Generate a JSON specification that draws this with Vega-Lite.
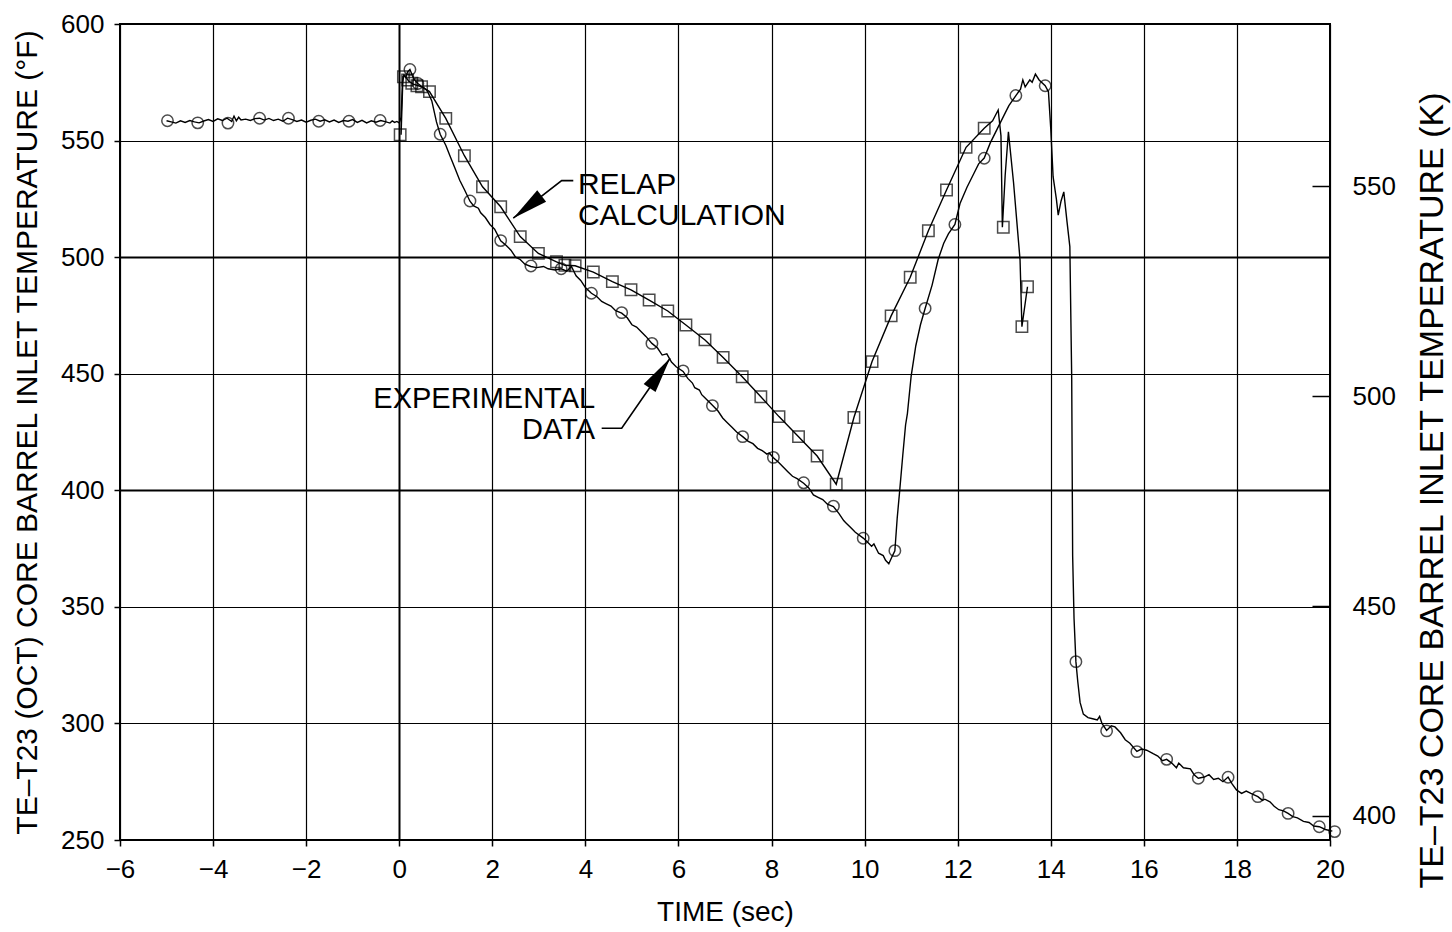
{
  "$schema": "https://vega.github.io/schema/vega-lite/v6.json",
  "width": 1210,
  "height": 816,
  "autosize": "none",
  "padding": {"left": 120, "top": 24, "right": 122, "bottom": 92},
  "background": "white",
  "config": {
    "view": {"stroke": "black", "strokeWidth": 2},
    "font": "Liberation Sans",
    "axis": {
      "labelFont": "Liberation Sans",
      "titleFont": "Liberation Sans",
      "labelColor": "black",
      "titleColor": "black",
      "titleFontWeight": "normal",
      "domainColor": "black",
      "tickColor": "black",
      "gridColor": "black",
      "gridOpacity": 1
    }
  },
  "datasets": {
    "exp": [
      {"t": -5.0, "T": 558.5}, {"t": -4.9, "T": 558.0}, {"t": -4.8, "T": 557.5}, {"t": -4.7, "T": 558.5}, {"t": -4.6, "T": 557.8},
      {"t": -4.5, "T": 558.6}, {"t": -4.4, "T": 558.0}, {"t": -4.3, "T": 557.6}, {"t": -4.2, "T": 558.4}, {"t": -4.1, "T": 559.0},
      {"t": -4.0, "T": 558.2}, {"t": -3.9, "T": 559.3}, {"t": -3.8, "T": 558.6}, {"t": -3.7, "T": 559.6}, {"t": -3.6, "T": 558.2},
      {"t": -3.55, "T": 560.5}, {"t": -3.5, "T": 558.5}, {"t": -3.45, "T": 560.0}, {"t": -3.4, "T": 558.8}, {"t": -3.3, "T": 559.2},
      {"t": -3.2, "T": 558.6}, {"t": -3.1, "T": 559.4}, {"t": -3.0, "T": 559.6}, {"t": -2.9, "T": 558.8}, {"t": -2.8, "T": 559.5},
      {"t": -2.7, "T": 558.6}, {"t": -2.6, "T": 559.2}, {"t": -2.5, "T": 558.3}, {"t": -2.4, "T": 559.6}, {"t": -2.3, "T": 559.0},
      {"t": -2.2, "T": 558.2}, {"t": -2.1, "T": 558.8}, {"t": -2.0, "T": 557.9}, {"t": -1.9, "T": 558.7}, {"t": -1.8, "T": 559.2},
      {"t": -1.7, "T": 558.3}, {"t": -1.6, "T": 558.9}, {"t": -1.5, "T": 558.0}, {"t": -1.4, "T": 558.8}, {"t": -1.3, "T": 557.8},
      {"t": -1.2, "T": 558.6}, {"t": -1.1, "T": 558.3}, {"t": -1.0, "T": 559.0}, {"t": -0.9, "T": 557.8}, {"t": -0.8, "T": 558.7},
      {"t": -0.7, "T": 557.6}, {"t": -0.6, "T": 558.5}, {"t": -0.5, "T": 557.9}, {"t": -0.4, "T": 558.6}, {"t": -0.3, "T": 558.1},
      {"t": -0.2, "T": 557.5}, {"t": -0.15, "T": 558.4}, {"t": -0.1, "T": 557.8}, {"t": -0.05, "T": 558.2}, {"t": 0.0, "T": 557.6},
      {"t": 0.04, "T": 560.0}, {"t": 0.07, "T": 575.0}, {"t": 0.1, "T": 578.0}, {"t": 0.14, "T": 577.0}, {"t": 0.18, "T": 579.5},
      {"t": 0.23, "T": 580.5}, {"t": 0.28, "T": 578.0}, {"t": 0.33, "T": 576.0}, {"t": 0.4, "T": 574.5}, {"t": 0.5, "T": 573.0},
      {"t": 0.6, "T": 571.5}, {"t": 0.7, "T": 567.0}, {"t": 0.8, "T": 558.0}, {"t": 0.88, "T": 552.7}, {"t": 1.0, "T": 548.0},
      {"t": 1.1, "T": 543.0}, {"t": 1.2, "T": 538.0}, {"t": 1.3, "T": 533.0}, {"t": 1.4, "T": 529.0}, {"t": 1.52, "T": 524.0},
      {"t": 1.6, "T": 522.0}, {"t": 1.7, "T": 521.0}, {"t": 1.75, "T": 519.0}, {"t": 1.85, "T": 517.0}, {"t": 1.95, "T": 514.0},
      {"t": 2.05, "T": 512.0}, {"t": 2.18, "T": 507.0}, {"t": 2.3, "T": 505.0}, {"t": 2.4, "T": 503.0}, {"t": 2.5, "T": 500.0},
      {"t": 2.6, "T": 499.0}, {"t": 2.7, "T": 497.0}, {"t": 2.83, "T": 496.0}, {"t": 2.95, "T": 495.5}, {"t": 3.1, "T": 496.0},
      {"t": 3.2, "T": 495.0}, {"t": 3.35, "T": 494.5}, {"t": 3.48, "T": 495.0}, {"t": 3.6, "T": 494.0}, {"t": 3.7, "T": 496.0},
      {"t": 3.8, "T": 492.0}, {"t": 3.9, "T": 490.0}, {"t": 4.0, "T": 487.0}, {"t": 4.13, "T": 484.5}, {"t": 4.25, "T": 483.0},
      {"t": 4.35, "T": 481.0}, {"t": 4.45, "T": 480.0}, {"t": 4.55, "T": 479.0}, {"t": 4.65, "T": 477.0}, {"t": 4.78, "T": 476.0},
      {"t": 4.9, "T": 474.0}, {"t": 5.0, "T": 471.0}, {"t": 5.1, "T": 470.0}, {"t": 5.2, "T": 468.0}, {"t": 5.3, "T": 466.0},
      {"t": 5.43, "T": 463.0}, {"t": 5.55, "T": 461.0}, {"t": 5.65, "T": 458.0}, {"t": 5.75, "T": 458.5}, {"t": 5.85, "T": 455.0},
      {"t": 5.95, "T": 453.0}, {"t": 6.1, "T": 451.0}, {"t": 6.2, "T": 448.0}, {"t": 6.3, "T": 446.0}, {"t": 6.35, "T": 444.0},
      {"t": 6.45, "T": 443.0}, {"t": 6.5, "T": 441.0}, {"t": 6.6, "T": 439.0}, {"t": 6.73, "T": 436.5}, {"t": 6.85, "T": 434.0},
      {"t": 6.95, "T": 431.0}, {"t": 7.05, "T": 429.0}, {"t": 7.15, "T": 427.0}, {"t": 7.25, "T": 425.0}, {"t": 7.38, "T": 423.0},
      {"t": 7.5, "T": 421.0}, {"t": 7.6, "T": 420.0}, {"t": 7.7, "T": 418.0}, {"t": 7.8, "T": 417.0}, {"t": 7.9, "T": 415.5},
      {"t": 7.95, "T": 416.0}, {"t": 8.04, "T": 414.0}, {"t": 8.15, "T": 412.0}, {"t": 8.25, "T": 410.0}, {"t": 8.35, "T": 408.0},
      {"t": 8.45, "T": 406.0}, {"t": 8.55, "T": 405.0}, {"t": 8.69, "T": 403.0}, {"t": 8.8, "T": 401.0}, {"t": 8.9, "T": 398.0},
      {"t": 9.0, "T": 397.0}, {"t": 9.1, "T": 396.0}, {"t": 9.2, "T": 394.0}, {"t": 9.33, "T": 393.0}, {"t": 9.45, "T": 390.0},
      {"t": 9.55, "T": 387.0}, {"t": 9.6, "T": 386.0}, {"t": 9.7, "T": 384.0}, {"t": 9.8, "T": 382.0}, {"t": 9.97, "T": 379.5},
      {"t": 10.05, "T": 378.0}, {"t": 10.15, "T": 376.0}, {"t": 10.2, "T": 377.0}, {"t": 10.3, "T": 373.0}, {"t": 10.4, "T": 372.0},
      {"t": 10.45, "T": 370.0}, {"t": 10.52, "T": 368.5}, {"t": 10.6, "T": 372.0}, {"t": 10.65, "T": 374.0}, {"t": 10.7, "T": 388.0},
      {"t": 10.75, "T": 399.0}, {"t": 10.82, "T": 415.0}, {"t": 10.88, "T": 428.0}, {"t": 10.92, "T": 433.0}, {"t": 11.0, "T": 449.0},
      {"t": 11.1, "T": 462.0}, {"t": 11.2, "T": 471.0}, {"t": 11.3, "T": 478.0}, {"t": 11.45, "T": 488.0}, {"t": 11.58, "T": 499.0},
      {"t": 11.7, "T": 506.0}, {"t": 11.8, "T": 510.0}, {"t": 11.94, "T": 514.0}, {"t": 12.05, "T": 523.0}, {"t": 12.2, "T": 530.0},
      {"t": 12.35, "T": 536.0}, {"t": 12.45, "T": 540.0}, {"t": 12.57, "T": 542.5}, {"t": 12.7, "T": 549.0}, {"t": 12.85, "T": 555.0},
      {"t": 13.0, "T": 561.0}, {"t": 13.1, "T": 565.0}, {"t": 13.25, "T": 569.3}, {"t": 13.35, "T": 572.0}, {"t": 13.4, "T": 576.0},
      {"t": 13.45, "T": 573.0}, {"t": 13.55, "T": 576.0}, {"t": 13.6, "T": 575.0}, {"t": 13.67, "T": 578.5}, {"t": 13.75, "T": 576.0},
      {"t": 13.88, "T": 573.5}, {"t": 13.95, "T": 571.0}, {"t": 14.0, "T": 555.0}, {"t": 14.05, "T": 534.5}, {"t": 14.12, "T": 525.0},
      {"t": 14.16, "T": 518.0}, {"t": 14.22, "T": 524.0}, {"t": 14.28, "T": 528.0}, {"t": 14.35, "T": 515.0}, {"t": 14.41, "T": 504.5},
      {"t": 14.45, "T": 448.0}, {"t": 14.47, "T": 372.0}, {"t": 14.5, "T": 345.0}, {"t": 14.54, "T": 326.5}, {"t": 14.58, "T": 318.0},
      {"t": 14.63, "T": 309.0}, {"t": 14.7, "T": 304.0}, {"t": 14.8, "T": 302.5}, {"t": 14.9, "T": 302.0}, {"t": 15.0, "T": 301.5},
      {"t": 15.05, "T": 303.0}, {"t": 15.1, "T": 300.0}, {"t": 15.2, "T": 297.0}, {"t": 15.3, "T": 299.0}, {"t": 15.38, "T": 298.5},
      {"t": 15.5, "T": 296.0}, {"t": 15.6, "T": 293.0}, {"t": 15.7, "T": 291.5}, {"t": 15.85, "T": 288.0}, {"t": 15.95, "T": 289.0},
      {"t": 16.06, "T": 288.5}, {"t": 16.2, "T": 287.0}, {"t": 16.3, "T": 286.0}, {"t": 16.4, "T": 284.0}, {"t": 16.49, "T": 284.6},
      {"t": 16.6, "T": 283.0}, {"t": 16.7, "T": 281.0}, {"t": 16.75, "T": 283.0}, {"t": 16.85, "T": 281.0}, {"t": 17.0, "T": 280.5},
      {"t": 17.08, "T": 278.0}, {"t": 17.17, "T": 276.5}, {"t": 17.3, "T": 277.0}, {"t": 17.4, "T": 278.0}, {"t": 17.5, "T": 276.0},
      {"t": 17.6, "T": 276.5}, {"t": 17.7, "T": 275.0}, {"t": 17.81, "T": 277.0}, {"t": 17.9, "T": 274.0}, {"t": 17.99, "T": 271.5},
      {"t": 18.1, "T": 270.0}, {"t": 18.2, "T": 271.0}, {"t": 18.3, "T": 270.0}, {"t": 18.45, "T": 268.6}, {"t": 18.55, "T": 267.0},
      {"t": 18.6, "T": 267.5}, {"t": 18.71, "T": 266.4}, {"t": 18.8, "T": 264.5}, {"t": 18.9, "T": 263.0}, {"t": 19.0, "T": 262.5},
      {"t": 19.1, "T": 261.4}, {"t": 19.2, "T": 260.0}, {"t": 19.3, "T": 259.5}, {"t": 19.43, "T": 258.0}, {"t": 19.55, "T": 257.5},
      {"t": 19.65, "T": 256.0}, {"t": 19.77, "T": 255.7}, {"t": 19.9, "T": 254.5}, {"t": 20.05, "T": 253.8}
    ],
    "expMarks": [
      {"t": -4.98, "T": 558.5}, {"t": -4.33, "T": 557.6}, {"t": -3.68, "T": 557.5}, {"t": -3.0, "T": 559.6}, {"t": -2.38, "T": 559.6},
      {"t": -1.73, "T": 558.3}, {"t": -1.08, "T": 558.3}, {"t": -0.41, "T": 558.6}, {"t": 0.23, "T": 580.5}, {"t": 0.4, "T": 574.5},
      {"t": 0.88, "T": 552.7}, {"t": 1.52, "T": 524.1}, {"t": 2.18, "T": 507.1}, {"t": 2.83, "T": 496.2}, {"t": 3.48, "T": 495.0},
      {"t": 4.13, "T": 484.5}, {"t": 4.78, "T": 476.2}, {"t": 5.43, "T": 463.0}, {"t": 6.1, "T": 451.2}, {"t": 6.73, "T": 436.3},
      {"t": 7.38, "T": 423.0}, {"t": 8.04, "T": 414.1}, {"t": 8.69, "T": 403.2}, {"t": 9.33, "T": 393.2}, {"t": 9.97, "T": 379.4},
      {"t": 10.65, "T": 374.1}, {"t": 11.3, "T": 478.0}, {"t": 11.94, "T": 514.0}, {"t": 12.57, "T": 542.4}, {"t": 13.25, "T": 569.3},
      {"t": 13.88, "T": 573.5}, {"t": 14.54, "T": 326.5}, {"t": 15.2, "T": 296.8}, {"t": 15.85, "T": 287.9}, {"t": 16.49, "T": 284.6},
      {"t": 17.17, "T": 276.5}, {"t": 17.81, "T": 276.9}, {"t": 18.45, "T": 268.6}, {"t": 19.1, "T": 261.4}, {"t": 19.77, "T": 255.7},
      {"t": 20.1, "T": 253.6}
    ],
    "relap": [
      {"t": 0.04, "T": 552.5}, {"t": 0.08, "T": 577.5}, {"t": 0.12, "T": 578.0}, {"t": 0.2, "T": 575.5}, {"t": 0.3, "T": 574.2},
      {"t": 0.48, "T": 573.1}, {"t": 0.65, "T": 571.0}, {"t": 1.0, "T": 559.5}, {"t": 1.4, "T": 543.5}, {"t": 1.79, "T": 530.2},
      {"t": 2.18, "T": 521.6}, {"t": 2.6, "T": 508.8}, {"t": 2.99, "T": 501.6}, {"t": 3.38, "T": 498.0}, {"t": 3.56, "T": 496.5},
      {"t": 3.78, "T": 496.3}, {"t": 4.17, "T": 493.6}, {"t": 4.58, "T": 489.5}, {"t": 4.98, "T": 486.0}, {"t": 5.37, "T": 481.6},
      {"t": 5.77, "T": 476.9}, {"t": 6.16, "T": 470.9}, {"t": 6.57, "T": 464.5}, {"t": 6.96, "T": 457.0}, {"t": 7.37, "T": 448.7},
      {"t": 7.77, "T": 440.1}, {"t": 8.16, "T": 431.6}, {"t": 8.58, "T": 423.0}, {"t": 8.98, "T": 414.7}, {"t": 9.39, "T": 402.6},
      {"t": 9.77, "T": 431.2}, {"t": 10.16, "T": 455.2}, {"t": 10.57, "T": 474.8}, {"t": 10.98, "T": 491.4}, {"t": 11.37, "T": 511.3},
      {"t": 11.76, "T": 528.8}, {"t": 12.18, "T": 547.1}, {"t": 12.57, "T": 555.3}, {"t": 12.75, "T": 558.5}, {"t": 12.87, "T": 563.1},
      {"t": 12.93, "T": 552.0}, {"t": 12.96, "T": 512.8}, {"t": 13.02, "T": 535.0}, {"t": 13.09, "T": 553.8}, {"t": 13.2, "T": 532.0},
      {"t": 13.34, "T": 498.8}, {"t": 13.38, "T": 470.2}, {"t": 13.5, "T": 487.3}
    ],
    "relapMarks": [
      {"t": 0.02, "T": 552.5}, {"t": 0.09, "T": 577.4}, {"t": 0.18, "T": 576.0}, {"t": 0.27, "T": 574.6}, {"t": 0.38, "T": 573.5},
      {"t": 0.48, "T": 573.1}, {"t": 0.65, "T": 571.0}, {"t": 1.0, "T": 559.5}, {"t": 1.4, "T": 543.5}, {"t": 1.79, "T": 530.2},
      {"t": 2.18, "T": 521.6}, {"t": 2.6, "T": 508.8}, {"t": 2.99, "T": 501.6}, {"t": 3.38, "T": 498.0}, {"t": 3.56, "T": 496.5},
      {"t": 3.78, "T": 496.3}, {"t": 4.17, "T": 493.6}, {"t": 4.58, "T": 489.5}, {"t": 4.98, "T": 486.0}, {"t": 5.37, "T": 481.6},
      {"t": 5.77, "T": 476.9}, {"t": 6.16, "T": 470.9}, {"t": 6.57, "T": 464.5}, {"t": 6.96, "T": 457.0}, {"t": 7.37, "T": 448.7},
      {"t": 7.77, "T": 440.1}, {"t": 8.16, "T": 431.6}, {"t": 8.58, "T": 423.0}, {"t": 8.98, "T": 414.7}, {"t": 9.39, "T": 402.6},
      {"t": 9.77, "T": 431.2}, {"t": 10.16, "T": 455.2}, {"t": 10.57, "T": 474.8}, {"t": 10.98, "T": 491.4}, {"t": 11.37, "T": 511.3},
      {"t": 11.76, "T": 528.8}, {"t": 12.18, "T": 547.1}, {"t": 12.57, "T": 555.3}, {"t": 12.98, "T": 512.8}, {"t": 13.38, "T": 470.2},
      {"t": 13.5, "T": 487.3}
    ],
    "leaders": [
      {"id": "relap", "t": 3.74, "T": 532.8}, {"id": "relap", "t": 3.49, "T": 532.8}, {"id": "relap", "t": 2.45, "T": 516.7},
      {"id": "exp", "t": 4.35, "T": 426.6}, {"id": "exp", "t": 4.78, "T": 426.6}, {"id": "exp", "t": 5.82, "T": 456.6}
    ],
    "kelvin": [{"K": 400}, {"K": 550}]
  },
  "layer": [
    {
      "layer": [
        {
          "data": {"name": "exp"},
          "mark": {"type": "line", "color": "black", "strokeWidth": 1.4, "clip": false},
          "encoding": {
            "x": {
              "field": "t", "type": "quantitative",
              "scale": {"domain": [-6, 20], "nice": false, "zero": false},
              "axis": {
                "orient": "bottom",
                "values": [-6, -4, -2, 0, 2, 4, 6, 8, 10, 12, 14, 16, 18, 20],
                "title": "TIME (sec)",
                "titleFontSize": 28,
                "titlePadding": 16,
                "labelFontSize": 26,
                "labelPadding": 10,
                "tickSize": 6,
                "tickWidth": 1.5,
                "domain": false,
                "grid": true,
                "gridWidth": {"condition": {"test": "datum.value === 0", "value": 2}, "value": 1.2},
                "labelFlush": false
              }
            },
            "y": {
              "field": "T", "type": "quantitative",
              "scale": {"domain": [250, 600], "nice": false, "zero": false},
              "axis": {
                "orient": "left",
                "values": [250, 300, 350, 400, 450, 500, 550, 600],
                "title": "TE–T23 (OCT) CORE BARREL INLET TEMPERATURE (°F)",
                "titleFontSize": 30,
                "titlePadding": 18,
                "labelFontSize": 26,
                "labelPadding": 10,
                "tickSize": 6,
                "tickWidth": 1.5,
                "domain": false,
                "grid": true,
                "gridWidth": {"condition": {"test": "datum.value === 500 || datum.value === 400", "value": 2}, "value": 1.2},
                "labelFlush": false
              }
            }
          }
        },
        {
          "data": {"name": "expMarks"},
          "mark": {"type": "point", "shape": "circle", "filled": false, "stroke": "black", "strokeWidth": 1.5, "size": 130, "clip": false},
          "encoding": {
            "x": {"field": "t", "type": "quantitative"},
            "y": {"field": "T", "type": "quantitative"}
          }
        },
        {
          "data": {"name": "relap"},
          "mark": {"type": "line", "color": "black", "strokeWidth": 1.4},
          "encoding": {
            "x": {"field": "t", "type": "quantitative"},
            "y": {"field": "T", "type": "quantitative"}
          }
        },
        {
          "data": {"name": "relapMarks"},
          "mark": {"type": "point", "shape": "square", "filled": false, "stroke": "black", "strokeWidth": 1.5, "size": 130},
          "encoding": {
            "x": {"field": "t", "type": "quantitative"},
            "y": {"field": "T", "type": "quantitative"}
          }
        },
        {
          "data": {"name": "leaders"},
          "mark": {"type": "line", "color": "black", "strokeWidth": 1.6},
          "encoding": {
            "x": {"field": "t", "type": "quantitative"},
            "y": {"field": "T", "type": "quantitative"},
            "detail": {"field": "id"}
          }
        },
        {
          "data": {"values": [{"t": 2.45, "T": 516.7}]},
          "mark": {"type": "point", "shape": "M0,0L0.2,1L-0.2,1Z", "filled": true, "color": "black", "opacity": 1, "size": 5200, "angle": 232},
          "encoding": {
            "x": {"field": "t", "type": "quantitative"},
            "y": {"field": "T", "type": "quantitative"}
          }
        },
        {
          "data": {"values": [{"t": 5.82, "T": 456.6}]},
          "mark": {"type": "point", "shape": "M0,0L0.2,1L-0.2,1Z", "filled": true, "color": "black", "opacity": 1, "size": 5200, "angle": 34.6},
          "encoding": {
            "x": {"field": "t", "type": "quantitative"},
            "y": {"field": "T", "type": "quantitative"}
          }
        },
        {
          "data": {"values": [
            {"t": 3.84, "T": 527.1, "label": "RELAP"},
            {"t": 3.84, "T": 513.8, "label": "CALCULATION"}
          ]},
          "mark": {"type": "text", "align": "left", "baseline": "alphabetic", "font": "Liberation Sans", "fontSize": 30, "color": "black"},
          "encoding": {
            "x": {"field": "t", "type": "quantitative"},
            "y": {"field": "T", "type": "quantitative"},
            "text": {"field": "label"}
          }
        },
        {
          "data": {"values": [
            {"t": 4.21, "T": 435.3, "label": "EXPERIMENTAL"},
            {"t": 4.21, "T": 422.0, "label": "DATA"}
          ]},
          "mark": {"type": "text", "align": "right", "baseline": "alphabetic", "font": "Liberation Sans", "fontSize": 29, "color": "black"},
          "encoding": {
            "x": {"field": "t", "type": "quantitative"},
            "y": {"field": "T", "type": "quantitative"},
            "text": {"field": "label"}
          }
        }
      ]
    },
    {
      "data": {"name": "kelvin"},
      "mark": {"type": "point", "opacity": 0},
      "encoding": {
        "y": {
          "field": "K", "type": "quantitative",
          "scale": {"domain": [394.26, 588.71], "nice": false, "zero": false},
          "axis": {
            "orient": "right",
            "values": [400, 450, 500, 550],
            "title": "TE–T23 CORE BARREL INLET TEMPERATURE (K)",
            "titleFontSize": 34,
            "titleAngle": 270,
            "titleBaseline": "top",
            "titleY": 466,
            "titlePadding": 20,
            "labelFontSize": 26,
            "labelPadding": 40,
            "tickSize": -18,
            "tickWidth": 1.5,
            "domain": false,
            "grid": false,
            "labelFlush": false
          }
        }
      }
    }
  ],
  "resolve": {"scale": {"y": "independent"}, "axis": {"y": "independent"}}
}
